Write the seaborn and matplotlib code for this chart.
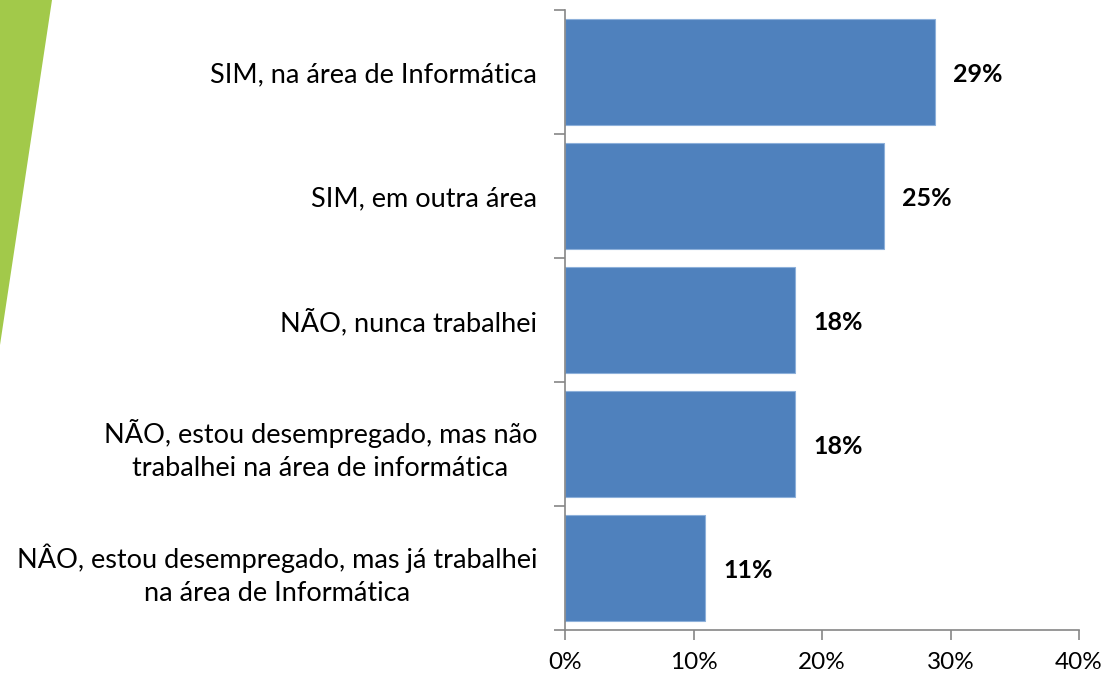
import matplotlib
matplotlib.use("Agg")
import matplotlib.pyplot as plt
import seaborn as sns
import pandas as pd
from matplotlib.patches import Polygon
from matplotlib.ticker import FixedLocator

categories = [
    "SIM, na área de Informática",
    "SIM, em outra área",
    "NÃO, nunca trabalhei",
    "NÃO, estou desempregado, mas não\ntrabalhei na área de informática",
    "NÂO, estou desempregado, mas já trabalhei\nna área de Informática",
]
values = [28.8, 24.8, 17.9, 17.9, 10.9]
x_ticks = [0, 10, 20, 30, 40]
x_tick_labels = ["0%", "10%", "20%", "30%", "40%"]

sns.set_theme(style="white")
plt.rcParams["font.family"] = ["Lato", "DejaVu Sans"]

df = pd.DataFrame({"categoria": categories, "valor": values})

fig = plt.figure(figsize=(11.09, 6.76), dpi=100)
ax = fig.add_axes([565 / 1109, 1 - 630 / 676, (1079 - 565) / 1109, (630 - 10) / 676])

# green accent wedge in the top-left corner
fig.patches.append(Polygon([(0, 1), (52 / 1109, 1), (0, 1 - 345 / 676)],
                           closed=True, transform=fig.transFigure,
                           facecolor="#A2C94A", edgecolor="none", zorder=0))

sns.barplot(data=df, x="valor", y="categoria", order=categories, orient="h",
            color="#4F81BD", saturation=1, width=0.85,
            edgecolor="#8DB0DA", linewidth=0.8, ax=ax)

ax.set_xlim(0, 40)
ax.set_ylim(len(categories) - 0.5, -0.5)
ax.set_xlabel("")
ax.set_ylabel("")

for i, v in enumerate(values):
    ax.annotate(f"{v:.0f}%", xy=(v, i), xytext=(31, -2), textcoords="offset points",
                ha="center", va="center", fontsize=18, fontweight="bold", color="black")

# axes styling
for side in ["top", "right"]:
    ax.spines[side].set_visible(False)
for side in ["left", "bottom"]:
    ax.spines[side].set_color("#868686")
    ax.spines[side].set_linewidth(1.2)

ax.set_xticks(x_ticks)
ax.set_xticklabels(x_tick_labels, fontsize=17.5, color="black")
ax.tick_params(axis="x", direction="out", length=7, width=1.2, color="#868686", pad=9, bottom=True)

ax.set_yticks(range(len(categories)))
ax.set_yticklabels(categories, fontsize=19.5, color="black")
for lbl in ax.get_yticklabels():
    lbl.set_multialignment("center")
    lbl.set_linespacing(1.4)
ax.tick_params(axis="y", which="major", length=0, pad=20)
ax.yaxis.set_minor_locator(FixedLocator([i - 0.5 for i in range(len(categories) + 1)]))
ax.tick_params(axis="y", which="minor", direction="out", length=8, width=1.2,
               color="#868686", left=True)

fig.savefig("out.png", dpi=100)
